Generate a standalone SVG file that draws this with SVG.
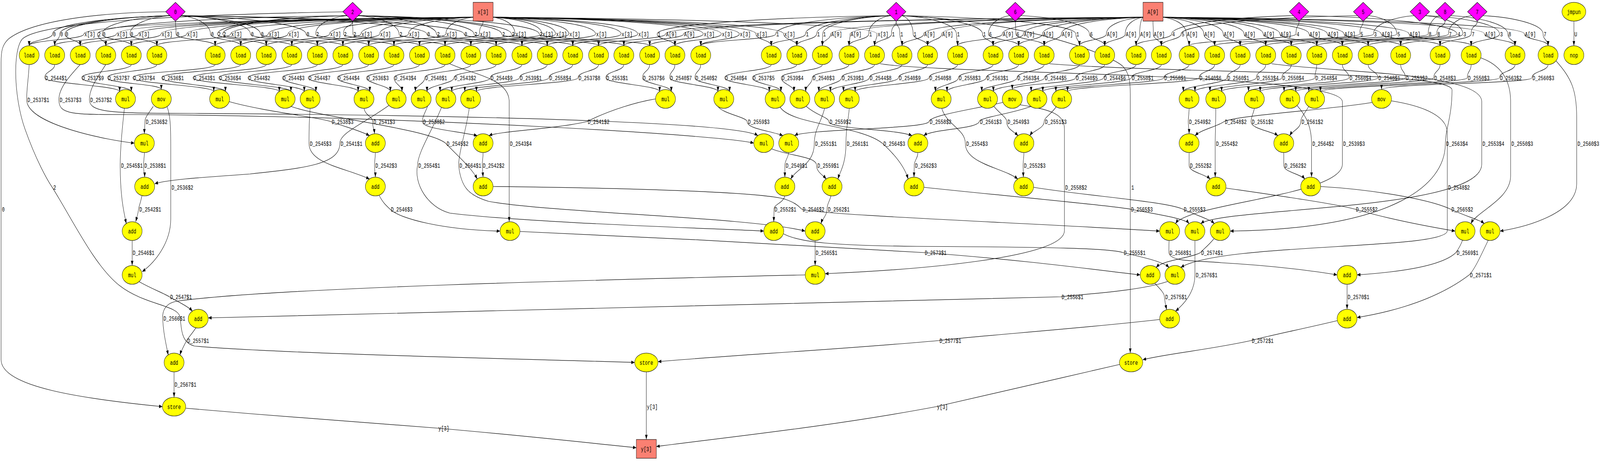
<svg xmlns="http://www.w3.org/2000/svg" width="5763" height="1179" viewBox="0 0 5763 1179" preserveAspectRatio="none">
<style>
svg{width:100vw;height:100vh}
text{font-family:"Liberation Mono","DejaVu Sans Mono",monospace;font-size:16.3px;fill:#000}
.n ellipse{fill:#ffff00;stroke:#000;stroke-width:1.1}
.d polygon{fill:#ff00ff;stroke:#000;stroke-width:1.1}
.b rect{fill:#fa8072;stroke:#000;stroke-width:1.1}
.n text,.d text,.b text{text-anchor:middle}
#edges path{fill:none;stroke:#000;stroke-width:1.2;marker-end:url(#arr)}
</style>
<defs>
<marker id="arr" viewBox="0 0 12 9" refX="12" refY="4.5" markerWidth="12" markerHeight="9" markerUnits="userSpaceOnUse" orient="auto"><path d="M0,0L12,4.5L0,9z" fill="#000" stroke="none"/></marker>
</defs>
<rect width="5763" height="1179" fill="#fff"/>
<g id="edges">
<path d="M1704,44 C1003,48 302,62 302,87 C302,102 105,102 105,117"/>
<path d="M1704,44 C1062,48 419,62 419,87 C419,102 197,102 197,117"/>
<path d="M1704,44 C1101,48 498,62 498,87 C498,102 289,102 289,117"/>
<path d="M1704,44 C1142,48 580,62 580,87 C580,102 381,102 381,117"/>
<path d="M1704,44 C1188,48 672,62 672,87 C672,102 473,102 473,117"/>
<path d="M1704,44 C1268,48 831,62 831,87 C831,102 565,102 565,117"/>
<path d="M1704,44 C1335,48 966,62 966,87 C966,102 775,102 775,117"/>
<path d="M1704,44 C1371,48 1037,62 1037,87 C1037,102 867,102 867,117"/>
<path d="M1704,44 C1446,48 1187,62 1187,87 C1187,102 959,102 959,117"/>
<path d="M1704,44 C1502,48 1300,62 1300,87 C1300,102 1051,102 1051,117"/>
<path d="M1704,44 C1536,48 1367,62 1367,87 C1367,102 1143,102 1143,117"/>
<path d="M1704,44 C1588,48 1471,62 1471,87 C1471,102 1235,102 1235,117"/>
<path d="M1704,44 C1655,48 1606,62 1606,87 C1606,102 1328,102 1328,117"/>
<path d="M1740,54 C1740,70 1727,62 1727,87 C1727,102 1419,102 1419,117"/>
<path d="M1776,44 C1816,48 1855,62 1855,87 C1855,102 1511,102 1511,117"/>
<path d="M1776,44 C1864,48 1952,62 1952,87 C1952,102 1603,102 1603,117"/>
<path d="M1776,44 C1888,48 2001,62 2001,87 C2001,102 1696,102 1696,117"/>
<path d="M1776,44 C1912,48 2049,62 2049,87 C2049,102 1787,102 1787,117"/>
<path d="M1776,44 C1960,48 2145,62 2145,87 C2145,102 1880,102 1880,117"/>
<path d="M1776,44 C2006,48 2237,62 2237,87 C2237,102 1971,102 1971,117"/>
<path d="M1776,44 C2036,48 2297,62 2297,87 C2297,102 2063,102 2063,117"/>
<path d="M4117,44 C3257,48 2397,62 2397,87 C2397,102 2156,102 2156,117"/>
<path d="M4117,44 C3290,48 2462,62 2462,87 C2462,102 2247,102 2247,117"/>
<path d="M1776,44 C2154,48 2533,62 2533,87 C2533,102 2340,102 2340,117"/>
<path d="M1776,44 C2187,48 2598,62 2598,87 C2598,102 2431,102 2431,117"/>
<path d="M1776,44 C2220,48 2663,62 2663,87 C2663,102 2524,102 2524,117"/>
<path d="M1776,44 C2250,48 2723,62 2723,87 C2723,102 2778,102 2778,117"/>
<path d="M1776,44 C2300,48 2823,62 2823,87 C2823,102 2870,102 2870,117"/>
<path d="M4117,44 C3554,48 2992,62 2992,87 C2992,102 2962,102 2962,117"/>
<path d="M4117,44 C3590,48 3062,62 3062,87 C3062,102 3058,102 3058,117"/>
<path d="M1776,44 C2468,48 3159,62 3159,87 C3159,102 3150,102 3150,117"/>
<path d="M4117,44 C3722,48 3327,62 3327,87 C3327,102 3249,102 3249,117"/>
<path d="M4117,44 C3754,48 3392,62 3392,87 C3392,102 3341,102 3341,117"/>
<path d="M4117,44 C3864,48 3610,62 3610,87 C3610,102 3449,102 3449,117"/>
<path d="M4117,44 C3902,48 3686,62 3686,87 C3686,102 3577,102 3577,117"/>
<path d="M4117,44 C3936,48 3755,62 3755,87 C3755,102 3669,102 3669,117"/>
<path d="M4117,44 C3970,48 3823,62 3823,87 C3823,102 3761,102 3761,117"/>
<path d="M4117,44 C4051,48 3985,62 3985,87 C3985,102 3888,102 3888,117"/>
<path d="M4117,44 C4085,48 4053,62 4053,87 C4053,102 3979,102 3979,117"/>
<path d="M4117,44 C4111,48 4105,62 4105,87 C4105,102 4092,102 4092,117"/>
<path d="M4153,54 C4153,70 4154,62 4154,87 C4154,102 4183,102 4183,117"/>
<path d="M4189,44 C4231,48 4273,62 4273,87 C4273,102 4283,102 4283,117"/>
<path d="M4189,44 C4262,48 4336,62 4336,87 C4336,102 4375,102 4375,117"/>
<path d="M4189,44 C4298,48 4406,62 4406,87 C4406,102 4467,102 4467,117"/>
<path d="M4189,44 C4335,48 4481,62 4481,87 C4481,102 4559,102 4559,117"/>
<path d="M4189,44 C4370,48 4550,62 4550,87 C4550,102 4651,102 4651,117"/>
<path d="M4189,44 C4400,48 4610,62 4610,87 C4610,102 4743,102 4743,117"/>
<path d="M4189,44 C4452,48 4715,62 4715,87 C4715,102 4835,102 4835,117"/>
<path d="M4189,44 C4485,48 4781,62 4781,87 C4781,102 4928,102 4928,117"/>
<path d="M4189,44 C4515,48 4841,62 4841,87 C4841,102 5045,102 5045,117"/>
<path d="M4189,44 C4582,48 4975,62 4975,87 C4975,102 5187,102 5187,117"/>
<path d="M4189,44 C4632,48 5075,62 5075,87 C5075,102 5299,102 5299,117"/>
<path d="M4189,44 C4768,48 5347,62 5347,87 C5347,102 5457,102 5457,117"/>
<path d="M4189,44 C4840,48 5491,62 5491,87 C5491,102 5576,102 5576,117"/>
<path d="M611,40 C400,44 189,62 189,87 C189,102 105,102 105,117"/>
<path d="M611,40 C413,44 215,62 215,87 C215,102 197,102 197,117"/>
<path d="M611,40 C422,44 234,62 234,87 C234,102 289,102 289,117"/>
<path d="M1249,40 C800,44 351,62 351,87 C351,102 381,102 381,117"/>
<path d="M611,40 C490,44 368,62 368,87 C368,102 473,102 473,117"/>
<path d="M611,40 C540,44 468,62 468,87 C468,102 565,102 565,117"/>
<path d="M632,54 C632,70 634,62 634,87 C634,102 775,102 775,117"/>
<path d="M653,40 C706,44 758,62 758,87 C758,102 867,102 867,117"/>
<path d="M1249,40 C1016,44 783,62 783,87 C783,102 959,102 959,117"/>
<path d="M1249,40 C1026,44 802,62 802,87 C802,102 1051,102 1051,117"/>
<path d="M653,40 C778,44 902,62 902,87 C902,102 1143,102 1143,117"/>
<path d="M653,40 C796,44 938,62 938,87 C938,102 1235,102 1235,117"/>
<path d="M653,40 C878,44 1102,62 1102,87 C1102,102 1328,102 1328,117"/>
<path d="M1249,40 C1193,44 1137,62 1137,87 C1137,102 1419,102 1419,117"/>
<path d="M1270,54 C1270,70 1237,62 1237,87 C1237,102 1511,102 1511,117"/>
<path d="M1270,54 C1270,70 1271,62 1271,87 C1271,102 1603,102 1603,117"/>
<path d="M1291,40 C1364,44 1437,62 1437,87 C1437,102 1696,102 1696,117"/>
<path d="M653,40 C1095,44 1537,62 1537,87 C1537,102 1787,102 1787,117"/>
<path d="M1291,40 C1432,44 1572,62 1572,87 C1572,102 1880,102 1880,117"/>
<path d="M653,40 C1162,44 1671,62 1671,87 C1671,102 1971,102 1971,117"/>
<path d="M1291,40 C1499,44 1707,62 1707,87 C1707,102 2063,102 2063,117"/>
<path d="M1291,40 C1549,44 1807,62 1807,87 C1807,102 2156,102 2156,117"/>
<path d="M1291,40 C1566,44 1842,62 1842,87 C1842,102 2247,102 2247,117"/>
<path d="M1291,40 C1616,44 1942,62 1942,87 C1942,102 2340,102 2340,117"/>
<path d="M3207,40 C2787,44 2367,62 2367,87 C2367,102 2431,102 2431,117"/>
<path d="M3207,40 C3000,44 2794,62 2794,87 C2794,102 2524,102 2524,117"/>
<path d="M3207,40 C3054,44 2901,62 2901,87 C2901,102 2778,102 2778,117"/>
<path d="M3207,40 C3074,44 2941,62 2941,87 C2941,102 2870,102 2870,117"/>
<path d="M3207,40 C3085,44 2963,62 2963,87 C2963,102 2962,102 2962,117"/>
<path d="M3207,40 C3168,44 3129,62 3129,87 C3129,102 3058,102 3058,117"/>
<path d="M3228,54 C3228,70 3211,62 3211,87 C3211,102 3150,102 3150,117"/>
<path d="M3228,54 C3228,70 3241,62 3241,87 C3241,102 3249,102 3249,117"/>
<path d="M3249,40 C3269,44 3289,62 3289,87 C3289,102 3341,102 3341,117"/>
<path d="M3249,40 C3347,44 3445,62 3445,87 C3445,102 3449,102 3449,117"/>
<path d="M3249,40 C3394,44 3539,62 3539,87 C3539,102 3577,102 3577,117"/>
<path d="M3636,40 C3598,44 3560,62 3560,87 C3560,102 3669,102 3669,117"/>
<path d="M3657,54 C3657,70 3659,62 3659,87 C3659,102 3761,102 3761,117"/>
<path d="M3249,40 C3562,44 3875,62 3875,87 C3875,102 3888,102 3888,117"/>
<path d="M3678,40 C3801,44 3924,62 3924,87 C3924,102 3979,102 3979,117"/>
<path d="M4658,40 C4439,44 4220,62 4220,87 C4220,102 4092,102 4092,117"/>
<path d="M4889,40 C4572,44 4254,62 4254,87 C4254,102 4183,102 4183,117"/>
<path d="M4679,54 C4679,70 4668,62 4668,87 C4668,102 4283,102 4283,117"/>
<path d="M4910,54 C4910,70 4898,62 4898,87 C4898,102 4375,102 4375,117"/>
<path d="M5093,40 C5020,44 4947,62 4947,87 C4947,102 4467,102 4467,117"/>
<path d="M4931,40 C4981,44 5031,62 5031,87 C5031,102 4559,102 4559,117"/>
<path d="M5184,40 C5164,44 5144,62 5144,87 C5144,102 4651,102 4651,117"/>
<path d="M5205,54 C5205,70 5175,62 5175,87 C5175,102 4743,102 4743,117"/>
<path d="M5300,40 C5258,44 5217,62 5217,87 C5217,102 4835,102 4835,117"/>
<path d="M4700,40 C4974,44 5248,62 5248,87 C5248,102 4928,102 4928,117"/>
<path d="M5135,40 C5202,44 5269,62 5269,87 C5269,102 5045,102 5045,117"/>
<path d="M5321,54 C5321,70 5299,62 5299,87 C5299,102 5187,102 5187,117"/>
<path d="M5135,40 C5268,44 5401,62 5401,87 C5401,102 5299,102 5299,117"/>
<path d="M5226,40 C5328,44 5431,62 5431,87 C5431,102 5457,102 5457,117"/>
<path d="M5342,40 C5450,44 5558,62 5558,87 C5558,102 5576,102 5576,117"/>
<path d="M5669,54 L5669,117"/>
<path d="M197,165 C197,182 161,182 161,199 C161,214 431,219 431,234"/>
<path d="M473,165 C473,182 294,182 294,199 C294,214 473,219 473,234"/>
<path d="M565,165 C565,182 387,182 387,199 C387,214 581,214 581,229"/>
<path d="M775,165 C775,182 478,182 478,199 C478,214 770,219 770,234"/>
<path d="M867,165 C867,182 582,182 582,199 C582,214 812,219 812,234"/>
<path d="M959,165 C959,182 695,182 695,199 C695,214 1006,219 1006,234"/>
<path d="M1051,165 C1051,182 788,182 788,199 C788,214 1048,219 1048,234"/>
<path d="M1143,165 C1143,182 893,182 893,199 C893,214 1096,219 1096,234"/>
<path d="M1235,165 C1235,182 1017,182 1017,199 C1017,214 1138,219 1138,234"/>
<path d="M1328,165 C1328,182 1110,182 1110,199 C1110,214 1290,219 1290,234"/>
<path d="M1419,165 C1419,182 1215,182 1215,199 C1215,214 1332,219 1332,234"/>
<path d="M1511,165 C1511,182 1320,182 1320,199 C1320,214 1406,219 1406,234"/>
<path d="M1603,165 C1603,182 1419,182 1419,199 C1419,214 1448,219 1448,234"/>
<path d="M1696,165 C1696,182 1530,182 1530,199 C1530,214 1496,219 1496,234"/>
<path d="M1787,165 C1787,182 1635,182 1635,199 C1635,214 1538,219 1538,234"/>
<path d="M1880,165 C1880,182 1766,182 1766,199 C1766,214 1585,219 1585,234"/>
<path d="M1971,165 C1971,182 1871,182 1871,199 C1871,214 1627,219 1627,234"/>
<path d="M2063,165 C2063,182 1977,182 1977,199 C1977,214 1674,219 1674,234"/>
<path d="M2156,165 C2156,182 2082,182 2082,199 C2082,214 1716,219 1716,234"/>
<path d="M2247,165 C2247,182 2182,182 2182,199 C2182,214 2376,219 2376,234"/>
<path d="M2340,165 C2340,182 2314,182 2314,199 C2314,214 2418,219 2418,234"/>
<path d="M2431,165 C2431,182 2412,182 2412,199 C2412,214 2586,219 2586,234"/>
<path d="M2524,165 C2524,182 2503,182 2503,199 C2503,214 2628,219 2628,234"/>
<path d="M2778,165 C2778,182 2610,182 2610,199 C2610,214 2771,219 2771,234"/>
<path d="M2870,165 C2870,182 2710,182 2710,199 C2710,214 2813,219 2813,234"/>
<path d="M2962,165 C2962,182 2814,182 2814,199 C2814,214 2860,219 2860,234"/>
<path d="M3058,165 C3058,182 2926,182 2926,199 C2926,214 2902,219 2902,234"/>
<path d="M3150,165 C3150,182 3031,182 3031,199 C3031,214 2949,219 2949,234"/>
<path d="M3249,165 C3249,182 3131,182 3131,199 C3131,214 2991,219 2991,234"/>
<path d="M3341,165 C3341,182 3236,182 3236,199 C3236,214 3038,219 3038,234"/>
<path d="M3449,165 C3449,182 3346,182 3346,199 C3346,214 3080,219 3080,234"/>
<path d="M3577,165 C3577,182 3452,182 3452,199 C3452,214 3369,219 3369,234"/>
<path d="M3669,165 C3669,182 3552,182 3552,199 C3552,214 3411,219 3411,234"/>
<path d="M3761,165 C3761,182 3663,182 3663,199 C3663,214 3536,219 3536,234"/>
<path d="M3888,165 C3888,182 3762,182 3762,199 C3762,214 3578,219 3578,234"/>
<path d="M3979,165 C3979,182 3874,182 3874,199 C3874,214 3646,214 3646,229"/>
<path d="M4092,165 C4092,182 3975,182 3975,199 C3975,214 3714,219 3714,234"/>
<path d="M4183,165 C4183,182 4075,182 4075,199 C4075,214 3756,219 3756,234"/>
<path d="M4283,165 C4283,182 4192,182 4192,199 C4192,214 3803,219 3803,234"/>
<path d="M4375,165 C4375,182 4319,182 4319,199 C4319,214 3845,219 3845,234"/>
<path d="M4467,165 C4467,182 4419,182 4419,199 C4419,214 4262,219 4262,234"/>
<path d="M4559,165 C4559,182 4525,182 4525,199 C4525,214 4304,219 4304,234"/>
<path d="M4651,165 C4651,182 4617,182 4617,199 C4617,214 4358,219 4358,234"/>
<path d="M4743,165 C4743,182 4736,182 4736,199 C4736,214 4400,219 4400,234"/>
<path d="M4835,165 C4835,182 4859,182 4859,199 C4859,214 4497,219 4497,234"/>
<path d="M4928,165 C4928,182 4963,182 4963,199 C4963,214 4539,219 4539,234"/>
<path d="M5045,165 C5045,182 5062,182 5062,199 C5062,214 4625,219 4625,234"/>
<path d="M5187,165 C5187,182 5164,182 5164,199 C5164,214 4667,219 4667,234"/>
<path d="M5299,165 C5299,182 5285,182 5285,199 C5285,214 4714,219 4714,234"/>
<path d="M5457,165 C5457,182 5401,182 5401,199 C5401,214 4756,219 4756,234"/>
<path d="M5576,165 C5576,182 5518,182 5518,199 C5518,214 4976,214 4976,229"/>
<path d="M105,165 C103,200 96,225 96,255 C96,320 400,360 484,366"/>
<path d="M289,165 C250,195 212,225 212,255 C212,295 260,293 500,293 C1500,298 2600,345 2715,366"/>
<path d="M381,165 C350,200 322,225 322,255 C322,288 400,290 700,290 C1600,294 2650,310 2730,347"/>
<path d="M552,272 C535,290 522,300 522,311 C522,325 520,332 520,342"/>
<path d="M826,260 C950,285 1150,300 1192,311 C1250,326 1300,335 1331,347"/>
<path d="M1311,277 C1315,295 1342,298 1342,311 C1342,325 1348,333 1349,342"/>
<path d="M1540,272 C1530,290 1521,300 1521,311 C1521,330 1650,335 1719,347"/>
<path d="M2361,253 C2300,260 2200,280 2114,311 C2000,330 1800,335 1761,347"/>
<path d="M2586,272 C2600,290 2691,300 2691,311 C2691,330 2780,335 2820,347"/>
<path d="M2904,272 C2940,295 2985,300 2985,311 C2985,330 3230,330 3285,347"/>
<path d="M3612,262 C3500,280 3350,295 3346,311 C3340,330 2900,330 2862,347"/>
<path d="M3714,272 C3650,290 3530,300 3527,311 C3520,330 3360,330 3327,347"/>
<path d="M3580,272 C3600,290 3626,300 3626,311 C3626,330 3650,335 3667,347"/>
<path d="M3805,272 C3790,290 3761,300 3761,311 C3761,328 3720,335 3709,347"/>
<path d="M4283,277 C4283,290 4280,300 4280,311 C4280,325 4283,330 4283,342"/>
<path d="M4942,262 C4800,280 4450,295 4409,311 C4380,325 4330,330 4304,347"/>
<path d="M4518,277 C4515,290 4506,300 4506,311 C4506,330 4580,335 4603,347"/>
<path d="M4714,272 C4700,290 4685,300 4685,311 C4685,328 4655,335 4645,347"/>
<path d="M1117,277 C1113,320 1113,340 1113,367 C1113,420 1250,430 1331,458"/>
<path d="M1400,270 C1300,320 1224,340 1224,367 C1224,420 1100,430 900,445 C700,455 600,460 557,470"/>
<path d="M1048,272 C1150,300 1550,330 1606,367 C1650,400 1700,430 1719,458"/>
<path d="M2970,277 C2960,310 2933,330 2933,367 C2933,420 2870,430 2848,458"/>
<path d="M3059,277 C3055,310 3047,330 3047,367 C3047,420 3025,440 3018,458"/>
<path d="M2810,274 C2850,320 3100,320 3179,367 C3230,400 3260,430 3271,458"/>
<path d="M3392,277 C3410,320 3477,330 3477,367 C3477,420 3620,430 3666,458"/>
<path d="M4379,277 C4379,320 4377,340 4377,367 L4377,453"/>
<path d="M4672,270 C4710,300 4724,330 4724,367 L4724,453"/>
<path d="M1620,163 C1700,190 1834,200 1834,260 L1834,567"/>
<path d="M3170,163 C3400,190 4835,185 4835,260 L4835,420 C4835,500 4280,520 4234,572"/>
<path d="M3780,163 C4200,188 5230,180 5230,230 C5230,300 5206,330 5206,367 C5206,480 5000,585 4431,591"/>
<path d="M4580,163 C4800,185 5337,185 5337,260 L5337,420 C5337,540 4400,530 4325,572"/>
<path d="M5334,148 C5400,165 5441,200 5441,260 L5441,450 C5441,510 5320,540 5298,572"/>
<path d="M5605,156 C5660,200 5679,230 5679,300 L5679,470 C5679,545 5500,580 5403,591"/>
<path d="M448,277 C440,330 433,380 433,423 C433,500 445,540 455,572"/>
<path d="M520,390 C520,405 517,410 517,423 C517,440 521,445 521,453"/>
<path d="M1352,390 C1352,405 1349,410 1349,423 C1349,440 1352,445 1352,453"/>
<path d="M1590,275 C1560,330 1504,390 1504,423 C1490,470 1540,530 1620,545 C1900,570 2600,585 2751,591"/>
<path d="M1690,277 C1680,330 1652,390 1652,423 C1660,480 1690,500 1760,515 C2000,545 2700,555 2900,591"/>
<path d="M1740,390 C1740,405 1737,410 1737,423 L1740,453"/>
<path d="M2841,390 C2838,405 2827,410 2827,423 L2827,453"/>
<path d="M2780,381 C2850,400 2941,400 2941,423 C2941,440 2965,448 2976,458"/>
<path d="M3306,390 C3306,405 3293,410 3293,423 L3292,453"/>
<path d="M3688,390 C3688,405 3685,410 3685,423 L3686,453"/>
<path d="M4283,390 C4283,405 4283,410 4283,423 C4283,440 4340,445 4359,458"/>
<path d="M4624,390 C4624,405 4624,410 4624,423 C4624,440 4685,445 4700,458"/>
<path d="M1249,30 C800,36 150,50 80,100 C45,130 50,250 90,330 C130,410 170,460 188,479 C260,560 340,680 430,730 C520,780 640,780 648,810 C655,840 650,875 700,885 C1000,905 2000,920 2286,927"/>
<path d="M602,273 C615,300 615,330 615,380 L615,560 C615,620 560,670 512,695"/>
<path d="M3674,268 C3780,280 3834,290 3834,330 L3834,590 C3834,660 3300,690 2972,700"/>
<path d="M3249,40 C3700,55 4000,140 4045,170 C4068,188 4071,210 4071,240 L4071,903"/>
<path d="M5012,258 C5100,268 5213,290 5213,340 L5213,590 C5213,640 4400,620 4253,684"/>
<path d="M597,30 C300,33 100,60 30,100 C8,115 4,130 4,160 L4,920 C4,990 300,1020 585,1040"/>
<path d="M511,501 C506,520 500,528 499,535 C497,548 492,558 489,567"/>
<path d="M1366,500 C1380,520 1395,528 1405,535 C1440,560 1600,588 1801,591"/>
<path d="M2827,501 C2820,520 2788,522 2788,535 L2787,567"/>
<path d="M1776,477 C2200,480 2750,490 2830,510 C2870,520 2880,530 2888,535 C2950,550 3700,570 4177,591"/>
<path d="M2993,501 C2988,515 2979,522 2979,535 C2979,550 2962,560 2957,572"/>
<path d="M3328,479 C3600,500 4000,525 4071,535 C4200,552 4270,560 4283,572"/>
<path d="M3723,479 C3900,500 4200,515 4261,535 C4330,556 4360,562 4374,572"/>
<path d="M4416,481 C4600,500 4800,520 4881,535 C5000,560 5150,580 5241,591"/>
<path d="M4757,477 C4950,485 5150,510 5225,535 C5290,556 5330,562 5346,572"/>
<path d="M476,615 L476,679"/>
<path d="M2936,615 L2936,679"/>
<path d="M1873,592 C2300,605 3000,630 3328,646 C3700,665 4000,695 4107,703"/>
<path d="M2822,598 C2880,620 3000,628 3300,630 C3800,632 4000,635 4045,646 C4130,660 4190,670 4211,684"/>
<path d="M4211,615 C4210,630 4210,640 4210,646 C4215,670 4300,666 4400,672 C4600,680 4750,695 4816,703"/>
<path d="M4372,611 C4350,630 4330,640 4324,646 C4290,660 4190,665 4164,684"/>
<path d="M5268,614 C5260,630 5250,640 5244,646 C5180,690 4950,700 4888,703"/>
<path d="M4304,615 C4304,650 4304,680 4304,703 C4304,750 4260,780 4234,796"/>
<path d="M5360,615 C5330,660 5310,690 5292,703 C5150,780 4950,805 4888,812"/>
<path d="M500,720 C550,740 590,750 610,759 C650,775 680,785 693,796"/>
<path d="M4205,720 C4100,745 3900,752 3821,759 C3000,778 2000,795 750,813"/>
<path d="M4160,725 C4180,740 4194,750 4194,759 C4196,775 4200,785 4202,792"/>
<path d="M4852,727 L4852,791"/>
<path d="M2900,703 C2200,715 1000,735 640,770 C590,775 585,800 586,814 C588,850 598,880 606,908"/>
<path d="M705,839 C690,855 680,862 672,871 C662,885 652,898 648,908"/>
<path d="M4177,817 C3900,840 3500,860 3381,871 C3000,895 2600,910 2370,925"/>
<path d="M4817,820 C4700,840 4560,860 4506,871 C4350,895 4200,905 4116,920"/>
<path d="M627,951 L627,1016"/>
<path d="M2328,951 L2328,1124"/>
<path d="M669,1044 C1000,1065 1400,1085 1576,1095 C1900,1115 2150,1135 2292,1145"/>
<path d="M4033,932 C3800,970 3500,1020 3372,1040 C3000,1090 2600,1120 2364,1142"/>
</g>
<g id="edge-labels">
<text x="191" y="93">0</text><text x="217" y="93">0</text><text x="236" y="93">0</text><text x="304" y="93">x[3]</text><text x="353" y="93">2</text><text x="370" y="93">0</text><text x="421" y="93">x[3]</text><text x="470" y="93">0</text><text x="500" y="93">x[3]</text><text x="582" y="93">x[3]</text><text x="636" y="93">0</text><text x="674" y="93">x[3]</text>
<text x="760" y="93">0</text><text x="785" y="93">2</text><text x="804" y="93">2</text><text x="833" y="93">x[3]</text><text x="904" y="93">0</text><text x="940" y="93">0</text><text x="968" y="93">x[3]</text><text x="1039" y="93">x[3]</text><text x="1104" y="93">0</text><text x="1139" y="93">2</text><text x="1189" y="93">x[3]</text><text x="1239" y="93">2</text><text x="1273" y="93">2</text><text x="1302" y="93">x[3]</text><text x="1369" y="93">x[3]</text><text x="1439" y="93">2</text>
<text x="1473" y="93">x[3]</text><text x="1539" y="93">0</text><text x="1574" y="93">2</text><text x="1608" y="93">x[3]</text><text x="1673" y="93">0</text><text x="1709" y="93">2</text><text x="1729" y="93">x[3]</text><text x="1809" y="93">2</text><text x="1844" y="93">2</text><text x="1857" y="93">x[3]</text><text x="1944" y="93">2</text><text x="1954" y="93">x[3]</text><text x="2003" y="93">x[3]</text><text x="2051" y="93">x[3]</text><text x="2147" y="93">x[3]</text>
<text x="2239" y="93">x[3]</text><text x="2299" y="93">x[3]</text><text x="2369" y="93">1</text><text x="2399" y="93">A[9]</text><text x="2464" y="93">A[9]</text><text x="2535" y="93">x[3]</text><text x="2600" y="93">x[3]</text><text x="2665" y="93">x[3]</text><text x="2725" y="93">x[3]</text><text x="2796" y="93">1</text><text x="2825" y="93">x[3]</text>
<text x="2903" y="93">1</text><text x="2943" y="93">1</text><text x="2965" y="93">1</text><text x="2994" y="93">A[9]</text><text x="3064" y="93">A[9]</text><text x="3131" y="93">1</text><text x="3161" y="93">x[3]</text><text x="3213" y="93">1</text><text x="3243" y="93">1</text><text x="3291" y="93">1</text><text x="3329" y="93">A[9]</text><text x="3394" y="93">A[9]</text><text x="3447" y="93">1</text><text x="3541" y="93">1</text><text x="3562" y="93">6</text>
<text x="3612" y="93">A[9]</text><text x="3661" y="93">6</text><text x="3688" y="93">A[9]</text><text x="3757" y="93">A[9]</text><text x="3825" y="93">A[9]</text><text x="3877" y="93">1</text><text x="3926" y="93">6</text><text x="3987" y="93">A[9]</text><text x="4055" y="93">A[9]</text><text x="4107" y="93">A[9]</text><text x="4156" y="93">A[9]</text><text x="4222" y="93">4</text><text x="4256" y="93">5</text><text x="4275" y="93">A[9]</text>
<text x="4338" y="93">A[9]</text><text x="4408" y="93">A[9]</text><text x="4483" y="93">A[9]</text><text x="4552" y="93">A[9]</text><text x="4612" y="93">A[9]</text><text x="4670" y="93">4</text><text x="4717" y="93">A[9]</text><text x="4783" y="93">A[9]</text><text x="4843" y="93">A[9]</text><text x="4900" y="93">5</text><text x="4949" y="93">3</text><text x="4977" y="93">A[9]</text><text x="5033" y="93">5</text>
<text x="5077" y="93">A[9]</text><text x="5146" y="93">8</text><text x="5177" y="93">8</text><text x="5219" y="93">7</text><text x="5250" y="93">4</text><text x="5271" y="93">3</text><text x="5301" y="93">7</text><text x="5349" y="93">A[9]</text><text x="5403" y="93">3</text><text x="5433" y="93">8</text><text x="5493" y="93">A[9]</text><text x="5560" y="93">7</text><text x="5671" y="93">U</text>
<text x="163" y="205">D_2544$1</text><text x="296" y="205">D_2537$9</text><text x="389" y="205">D_2537$7</text><text x="480" y="205">D_2537$4</text><text x="584" y="205">D_2536$1</text><text x="697" y="205">D_2543$1</text><text x="790" y="205">D_2536$4</text><text x="895" y="205">D_2544$2</text><text x="1019" y="205">D_2544$3</text><text x="1112" y="205">D_2544$7</text><text x="1217" y="205">D_2544$4</text><text x="1322" y="205">D_2536$3</text><text x="1421" y="205">D_2543$4</text>
<text x="1532" y="205">D_2540$1</text><text x="1637" y="205">D_2543$2</text><text x="1768" y="205">D_2544$9</text><text x="1873" y="205">D_2539$1</text><text x="1979" y="205">D_2558$4</text><text x="2084" y="205">D_2537$8</text><text x="2184" y="205">D_2553$1</text><text x="2316" y="205">D_2537$6</text><text x="2414" y="205">D_2540$7</text><text x="2505" y="205">D_2540$2</text><text x="2612" y="205">D_2540$4</text><text x="2712" y="205">D_2537$5</text><text x="2816" y="205">D_2539$4</text>
<text x="2928" y="205">D_2540$3</text><text x="3033" y="205">D_2539$3</text><text x="3133" y="205">D_2544$8</text><text x="3238" y="205">D_2540$9</text><text x="3348" y="205">D_2540$8</text><text x="3454" y="205">D_2558$3</text><text x="3554" y="205">D_2563$1</text><text x="3665" y="205">D_2563$4</text><text x="3764" y="205">D_2544$5</text><text x="3876" y="205">D_2540$5</text><text x="3977" y="205">D_2544$6</text><text x="4077" y="205">D_2550$1</text><text x="4194" y="205">D_2558$1</text>
<text x="4321" y="205">D_2540$6</text><text x="4421" y="205">D_2560$1</text><text x="4527" y="205">D_2553$4</text><text x="4619" y="205">D_2550$4</text><text x="4738" y="205">D_2548$4</text><text x="4861" y="205">D_2560$4</text><text x="4965" y="205">D_2548$1</text><text x="5064" y="205">D_2553$2</text><text x="5166" y="205">D_2548$3</text><text x="5287" y="205">D_2550$3</text><text x="5403" y="205">D_2563$2</text><text x="5520" y="205">D_2560$3</text>
<text x="99" y="261">D_2537$1</text><text x="215" y="261">D_2537$3</text><text x="325" y="261">D_2537$2</text>
<text x="525" y="317">D_2536$2</text><text x="1195" y="317">D_2538$3</text><text x="1345" y="317">D_2541$3</text><text x="1524" y="317">D_2538$2</text><text x="2117" y="317">D_2541$2</text><text x="2694" y="317">D_2559$3</text><text x="2988" y="317">D_2559$2</text><text x="3349" y="317">D_2558$2</text><text x="3530" y="317">D_2561$3</text><text x="3629" y="317">D_2549$3</text><text x="3764" y="317">D_2551$3</text><text x="4283" y="317">D_2549$2</text><text x="4412" y="317">D_2548$2</text><text x="4509" y="317">D_2551$2</text><text x="4688" y="317">D_2561$2</text>
<text x="1116" y="373">D_2545$3</text><text x="1227" y="373">D_2541$1</text><text x="1609" y="373">D_2545$2</text><text x="1837" y="373">D_2543$4</text><text x="2936" y="373">D_2551$1</text><text x="3050" y="373">D_2561$1</text><text x="3182" y="373">D_2564$3</text><text x="3480" y="373">D_2554$3</text><text x="4380" y="373">D_2554$2</text><text x="4727" y="373">D_2564$2</text><text x="4838" y="373">D_2539$3</text><text x="5209" y="373">D_2563$4</text><text x="5340" y="373">D_2553$4</text><text x="5444" y="373">D_2550$3</text><text x="5682" y="373">D_2560$3</text>
<text x="436" y="429">D_2545$1</text><text x="520" y="429">D_2538$1</text><text x="1352" y="429">D_2542$3</text><text x="1507" y="429">D_2554$1</text><text x="1655" y="429">D_2564$1</text><text x="1739" y="429">D_2542$2</text><text x="2830" y="429">D_2549$1</text><text x="2944" y="429">D_2559$1</text><text x="3296" y="429">D_2562$3</text><text x="3688" y="429">D_2552$3</text><text x="4286" y="429">D_2552$2</text><text x="4627" y="429">D_2562$2</text>
<text x="192" y="485">2</text><text x="618" y="485">D_2536$2</text><text x="3837" y="485">D_2558$2</text><text x="4075" y="485">1</text><text x="5216" y="485">D_2548$2</text>
<text x="7" y="541">0</text><text x="502" y="541">D_2542$1</text><text x="1408" y="541">D_2546$3</text><text x="2790" y="541">D_2552$1</text><text x="2891" y="541">D_2546$2</text><text x="2982" y="541">D_2562$1</text><text x="4074" y="541">D_2565$3</text><text x="4264" y="541">D_2555$3</text><text x="4884" y="541">D_2555$2</text><text x="5228" y="541">D_2565$2</text>
<text x="478" y="652">D_2546$1</text><text x="2938" y="652">D_2565$1</text><text x="3331" y="652">D_2573$1</text><text x="4048" y="652">D_2555$1</text><text x="4213" y="652">D_2568$1</text><text x="4327" y="652">D_2574$1</text><text x="5247" y="652">D_2569$1</text>
<text x="4307" y="709">D_2576$1</text><text x="5295" y="709">D_2571$1</text>
<text x="613" y="765">D_2547$1</text><text x="3824" y="765">D_2556$1</text><text x="4197" y="765">D_2575$1</text><text x="4854" y="765">D_2570$1</text>
<text x="589" y="820">D_2566$1</text>
<text x="675" y="877">D_2557$1</text><text x="3384" y="877">D_2577$1</text><text x="4509" y="877">D_2572$1</text>
<text x="629" y="989">D_2567$1</text>
<text x="2330" y="1046">y[3]</text><text x="3375" y="1046">y[3]</text>
<text x="1579" y="1101">y[3]</text>
</g>
<g id="n_c0" class="d"><polygon points="597,30 632,6 667,30 632,54"/><text x="632" y="36">0</text></g>
<g id="n_c2" class="d"><polygon points="1235,30 1270,6 1305,30 1270,54"/><text x="1270" y="36">2</text></g>
<g id="n_x3" class="b"><rect x="1704" y="6" width="72" height="48"/><text x="1740" y="36">x[3]</text></g>
<g id="n_c1" class="d"><polygon points="3193,30 3228,6 3263,30 3228,54"/><text x="3228" y="36">1</text></g>
<g id="n_c6" class="d"><polygon points="3622,30 3657,6 3692,30 3657,54"/><text x="3657" y="36">6</text></g>
<g id="n_a9" class="b"><rect x="4117" y="6" width="72" height="48"/><text x="4153" y="36">A[9]</text></g>
<g id="n_c4" class="d"><polygon points="4644,30 4679,6 4714,30 4679,54"/><text x="4679" y="36">4</text></g>
<g id="n_c5" class="d"><polygon points="4875,30 4910,6 4945,30 4910,54"/><text x="4910" y="36">5</text></g>
<g id="n_c3" class="d"><polygon points="5079,30 5114,6 5149,30 5114,54"/><text x="5114" y="36">3</text></g>
<g id="n_c8" class="d"><polygon points="5170,30 5205,6 5240,30 5205,54"/><text x="5205" y="36">8</text></g>
<g id="n_c7" class="d"><polygon points="5286,30 5321,6 5356,30 5321,54"/><text x="5321" y="36">7</text></g>
<g id="n_jmpun" class="n"><ellipse cx="5669" cy="30" rx="43" ry="24"/><text x="5669" y="36">jmpun</text></g>
<g id="n_ld1" class="n"><ellipse cx="105" cy="141" rx="36" ry="24"/><text x="105" y="147">load</text></g>
<g id="n_ld2" class="n"><ellipse cx="197" cy="141" rx="36" ry="24"/><text x="197" y="147">load</text></g>
<g id="n_ld3" class="n"><ellipse cx="289" cy="141" rx="36" ry="24"/><text x="289" y="147">load</text></g>
<g id="n_ld4" class="n"><ellipse cx="381" cy="141" rx="36" ry="24"/><text x="381" y="147">load</text></g>
<g id="n_ld5" class="n"><ellipse cx="473" cy="141" rx="36" ry="24"/><text x="473" y="147">load</text></g>
<g id="n_ld6" class="n"><ellipse cx="565" cy="141" rx="36" ry="24"/><text x="565" y="147">load</text></g>
<g id="n_ld7" class="n"><ellipse cx="775" cy="141" rx="36" ry="24"/><text x="775" y="147">load</text></g>
<g id="n_ld8" class="n"><ellipse cx="867" cy="141" rx="36" ry="24"/><text x="867" y="147">load</text></g>
<g id="n_ld9" class="n"><ellipse cx="959" cy="141" rx="36" ry="24"/><text x="959" y="147">load</text></g>
<g id="n_ld10" class="n"><ellipse cx="1051" cy="141" rx="36" ry="24"/><text x="1051" y="147">load</text></g>
<g id="n_ld11" class="n"><ellipse cx="1143" cy="141" rx="36" ry="24"/><text x="1143" y="147">load</text></g>
<g id="n_ld12" class="n"><ellipse cx="1235" cy="141" rx="36" ry="24"/><text x="1235" y="147">load</text></g>
<g id="n_ld13" class="n"><ellipse cx="1328" cy="141" rx="36" ry="24"/><text x="1328" y="147">load</text></g>
<g id="n_ld14" class="n"><ellipse cx="1419" cy="141" rx="36" ry="24"/><text x="1419" y="147">load</text></g>
<g id="n_ld15" class="n"><ellipse cx="1511" cy="141" rx="36" ry="24"/><text x="1511" y="147">load</text></g>
<g id="n_ld16" class="n"><ellipse cx="1603" cy="141" rx="36" ry="24"/><text x="1603" y="147">load</text></g>
<g id="n_ld17" class="n"><ellipse cx="1696" cy="141" rx="36" ry="24"/><text x="1696" y="147">load</text></g>
<g id="n_ld18" class="n"><ellipse cx="1787" cy="141" rx="36" ry="24"/><text x="1787" y="147">load</text></g>
<g id="n_ld19" class="n"><ellipse cx="1880" cy="141" rx="36" ry="24"/><text x="1880" y="147">load</text></g>
<g id="n_ld20" class="n"><ellipse cx="1971" cy="141" rx="36" ry="24"/><text x="1971" y="147">load</text></g>
<g id="n_ld21" class="n"><ellipse cx="2063" cy="141" rx="36" ry="24"/><text x="2063" y="147">load</text></g>
<g id="n_ld22" class="n"><ellipse cx="2156" cy="141" rx="36" ry="24"/><text x="2156" y="147">load</text></g>
<g id="n_ld23" class="n"><ellipse cx="2247" cy="141" rx="36" ry="24"/><text x="2247" y="147">load</text></g>
<g id="n_ld24" class="n"><ellipse cx="2340" cy="141" rx="36" ry="24"/><text x="2340" y="147">load</text></g>
<g id="n_ld25" class="n"><ellipse cx="2431" cy="141" rx="36" ry="24"/><text x="2431" y="147">load</text></g>
<g id="n_ld26" class="n"><ellipse cx="2524" cy="141" rx="36" ry="24"/><text x="2524" y="147">load</text></g>
<g id="n_ld27" class="n"><ellipse cx="2778" cy="141" rx="36" ry="24"/><text x="2778" y="147">load</text></g>
<g id="n_ld28" class="n"><ellipse cx="2870" cy="141" rx="36" ry="24"/><text x="2870" y="147">load</text></g>
<g id="n_ld29" class="n"><ellipse cx="2962" cy="141" rx="36" ry="24"/><text x="2962" y="147">load</text></g>
<g id="n_ld30" class="n"><ellipse cx="3058" cy="141" rx="36" ry="24"/><text x="3058" y="147">load</text></g>
<g id="n_ld31" class="n"><ellipse cx="3150" cy="141" rx="36" ry="24"/><text x="3150" y="147">load</text></g>
<g id="n_ld32" class="n"><ellipse cx="3249" cy="141" rx="36" ry="24"/><text x="3249" y="147">load</text></g>
<g id="n_ld33" class="n"><ellipse cx="3341" cy="141" rx="36" ry="24"/><text x="3341" y="147">load</text></g>
<g id="n_ld34" class="n"><ellipse cx="3449" cy="141" rx="36" ry="24"/><text x="3449" y="147">load</text></g>
<g id="n_ld35" class="n"><ellipse cx="3577" cy="141" rx="36" ry="24"/><text x="3577" y="147">load</text></g>
<g id="n_ld36" class="n"><ellipse cx="3669" cy="141" rx="36" ry="24"/><text x="3669" y="147">load</text></g>
<g id="n_ld37" class="n"><ellipse cx="3761" cy="141" rx="36" ry="24"/><text x="3761" y="147">load</text></g>
<g id="n_ld38" class="n"><ellipse cx="3888" cy="141" rx="36" ry="24"/><text x="3888" y="147">load</text></g>
<g id="n_ld39" class="n"><ellipse cx="3979" cy="141" rx="36" ry="24"/><text x="3979" y="147">load</text></g>
<g id="n_ld40" class="n"><ellipse cx="4092" cy="141" rx="36" ry="24"/><text x="4092" y="147">load</text></g>
<g id="n_ld41" class="n"><ellipse cx="4183" cy="141" rx="36" ry="24"/><text x="4183" y="147">load</text></g>
<g id="n_ld42" class="n"><ellipse cx="4283" cy="141" rx="36" ry="24"/><text x="4283" y="147">load</text></g>
<g id="n_ld43" class="n"><ellipse cx="4375" cy="141" rx="36" ry="24"/><text x="4375" y="147">load</text></g>
<g id="n_ld44" class="n"><ellipse cx="4467" cy="141" rx="36" ry="24"/><text x="4467" y="147">load</text></g>
<g id="n_ld45" class="n"><ellipse cx="4559" cy="141" rx="36" ry="24"/><text x="4559" y="147">load</text></g>
<g id="n_ld46" class="n"><ellipse cx="4651" cy="141" rx="36" ry="24"/><text x="4651" y="147">load</text></g>
<g id="n_ld47" class="n"><ellipse cx="4743" cy="141" rx="36" ry="24"/><text x="4743" y="147">load</text></g>
<g id="n_ld48" class="n"><ellipse cx="4835" cy="141" rx="36" ry="24"/><text x="4835" y="147">load</text></g>
<g id="n_ld49" class="n"><ellipse cx="4928" cy="141" rx="36" ry="24"/><text x="4928" y="147">load</text></g>
<g id="n_ld50" class="n"><ellipse cx="5045" cy="141" rx="36" ry="24"/><text x="5045" y="147">load</text></g>
<g id="n_ld51" class="n"><ellipse cx="5187" cy="141" rx="36" ry="24"/><text x="5187" y="147">load</text></g>
<g id="n_ld52" class="n"><ellipse cx="5299" cy="141" rx="36" ry="24"/><text x="5299" y="147">load</text></g>
<g id="n_ld53" class="n"><ellipse cx="5457" cy="141" rx="36" ry="24"/><text x="5457" y="147">load</text></g>
<g id="n_ld54" class="n"><ellipse cx="5576" cy="141" rx="36" ry="24"/><text x="5576" y="147">load</text></g>
<g id="n_nop" class="n"><ellipse cx="5669" cy="141" rx="36" ry="24"/><text x="5669" y="147">nop</text></g>
<g id="n_m1" class="n"><ellipse cx="452" cy="253" rx="36" ry="24"/><text x="452" y="259">mul</text></g>
<g id="n_m2" class="n"><ellipse cx="581" cy="253" rx="36" ry="24"/><text x="581" y="259">mov</text></g>
<g id="n_m3" class="n"><ellipse cx="791" cy="253" rx="36" ry="24"/><text x="791" y="259">mul</text></g>
<g id="n_m4" class="n"><ellipse cx="1027" cy="253" rx="36" ry="24"/><text x="1027" y="259">mul</text></g>
<g id="n_m5" class="n"><ellipse cx="1117" cy="253" rx="36" ry="24"/><text x="1117" y="259">mul</text></g>
<g id="n_m6" class="n"><ellipse cx="1311" cy="253" rx="36" ry="24"/><text x="1311" y="259">mul</text></g>
<g id="n_m7" class="n"><ellipse cx="1427" cy="253" rx="36" ry="24"/><text x="1427" y="259">mul</text></g>
<g id="n_m8" class="n"><ellipse cx="1517" cy="253" rx="36" ry="24"/><text x="1517" y="259">mul</text></g>
<g id="n_m9" class="n"><ellipse cx="1606" cy="253" rx="36" ry="24"/><text x="1606" y="259">mul</text></g>
<g id="n_m10" class="n"><ellipse cx="1695" cy="253" rx="36" ry="24"/><text x="1695" y="259">mul</text></g>
<g id="n_m11" class="n"><ellipse cx="2397" cy="253" rx="36" ry="24"/><text x="2397" y="259">mul</text></g>
<g id="n_m12" class="n"><ellipse cx="2607" cy="253" rx="36" ry="24"/><text x="2607" y="259">mul</text></g>
<g id="n_m13" class="n"><ellipse cx="2792" cy="253" rx="36" ry="24"/><text x="2792" y="259">mul</text></g>
<g id="n_m14" class="n"><ellipse cx="2881" cy="253" rx="36" ry="24"/><text x="2881" y="259">mul</text></g>
<g id="n_m15" class="n"><ellipse cx="2970" cy="253" rx="36" ry="24"/><text x="2970" y="259">mul</text></g>
<g id="n_m16" class="n"><ellipse cx="3059" cy="253" rx="36" ry="24"/><text x="3059" y="259">mul</text></g>
<g id="n_m17" class="n"><ellipse cx="3390" cy="253" rx="36" ry="24"/><text x="3390" y="259">mul</text></g>
<g id="n_m18" class="n"><ellipse cx="3557" cy="253" rx="36" ry="24"/><text x="3557" y="259">mul</text></g>
<g id="n_m19" class="n"><ellipse cx="3646" cy="253" rx="36" ry="24"/><text x="3646" y="259">mov</text></g>
<g id="n_m20" class="n"><ellipse cx="3735" cy="253" rx="36" ry="24"/><text x="3735" y="259">mul</text></g>
<g id="n_m21" class="n"><ellipse cx="3824" cy="253" rx="36" ry="24"/><text x="3824" y="259">mul</text></g>
<g id="n_m22" class="n"><ellipse cx="4283" cy="253" rx="36" ry="24"/><text x="4283" y="259">mul</text></g>
<g id="n_m23" class="n"><ellipse cx="4379" cy="253" rx="36" ry="24"/><text x="4379" y="259">mul</text></g>
<g id="n_m24" class="n"><ellipse cx="4518" cy="253" rx="36" ry="24"/><text x="4518" y="259">mul</text></g>
<g id="n_m25" class="n"><ellipse cx="4646" cy="253" rx="36" ry="24"/><text x="4646" y="259">mul</text></g>
<g id="n_m26" class="n"><ellipse cx="4735" cy="253" rx="36" ry="24"/><text x="4735" y="259">mul</text></g>
<g id="n_m27" class="n"><ellipse cx="4976" cy="253" rx="36" ry="24"/><text x="4976" y="259">mov</text></g>
<g id="n_t1" class="n"><ellipse cx="520" cy="366" rx="36" ry="24"/><text x="520" y="372">mul</text></g>
<g id="n_t2" class="n"><ellipse cx="1352" cy="366" rx="36" ry="24"/><text x="1352" y="372">add</text></g>
<g id="n_t3" class="n"><ellipse cx="1740" cy="366" rx="36" ry="24"/><text x="1740" y="372">add</text></g>
<g id="n_t4" class="n"><ellipse cx="2751" cy="366" rx="36" ry="24"/><text x="2751" y="372">mul</text></g>
<g id="n_t5" class="n"><ellipse cx="2841" cy="366" rx="36" ry="24"/><text x="2841" y="372">mul</text></g>
<g id="n_t6" class="n"><ellipse cx="3306" cy="366" rx="36" ry="24"/><text x="3306" y="372">add</text></g>
<g id="n_t7" class="n"><ellipse cx="3688" cy="366" rx="36" ry="24"/><text x="3688" y="372">add</text></g>
<g id="n_t8" class="n"><ellipse cx="4283" cy="366" rx="36" ry="24"/><text x="4283" y="372">add</text></g>
<g id="n_t9" class="n"><ellipse cx="4624" cy="366" rx="36" ry="24"/><text x="4624" y="372">add</text></g>
<g id="n_u1" class="n"><ellipse cx="521" cy="477" rx="36" ry="24"/><text x="521" y="483">add</text></g>
<g id="n_u2" class="n"><ellipse cx="1352" cy="477" rx="36" ry="24"/><text x="1352" y="483">add</text></g>
<g id="n_u3" class="n"><ellipse cx="1740" cy="477" rx="36" ry="24"/><text x="1740" y="483">add</text></g>
<g id="n_u4" class="n"><ellipse cx="2827" cy="477" rx="36" ry="24"/><text x="2827" y="483">add</text></g>
<g id="n_u5" class="n"><ellipse cx="2997" cy="477" rx="36" ry="24"/><text x="2997" y="483">add</text></g>
<g id="n_u6" class="n"><ellipse cx="3292" cy="477" rx="36" ry="24"/><text x="3292" y="483">add</text></g>
<g id="n_u7" class="n"><ellipse cx="3687" cy="477" rx="36" ry="24"/><text x="3687" y="483">add</text></g>
<g id="n_u8" class="n"><ellipse cx="4380" cy="477" rx="36" ry="24"/><text x="4380" y="483">add</text></g>
<g id="n_u9" class="n"><ellipse cx="4721" cy="477" rx="36" ry="24"/><text x="4721" y="483">add</text></g>
<g id="n_v1" class="n"><ellipse cx="476" cy="591" rx="36" ry="24"/><text x="476" y="597">add</text></g>
<g id="n_v2" class="n"><ellipse cx="1837" cy="591" rx="36" ry="24"/><text x="1837" y="597">mul</text></g>
<g id="n_v3" class="n"><ellipse cx="2787" cy="591" rx="36" ry="24"/><text x="2787" y="597">add</text></g>
<g id="n_v4" class="n"><ellipse cx="2936" cy="591" rx="36" ry="24"/><text x="2936" y="597">add</text></g>
<g id="n_v5" class="n"><ellipse cx="4213" cy="591" rx="36" ry="24"/><text x="4213" y="597">mul</text></g>
<g id="n_v6" class="n"><ellipse cx="4304" cy="591" rx="36" ry="24"/><text x="4304" y="597">mul</text></g>
<g id="n_v7" class="n"><ellipse cx="4395" cy="591" rx="36" ry="24"/><text x="4395" y="597">mul</text></g>
<g id="n_v8" class="n"><ellipse cx="5277" cy="591" rx="36" ry="24"/><text x="5277" y="597">mul</text></g>
<g id="n_v9" class="n"><ellipse cx="5367" cy="591" rx="36" ry="24"/><text x="5367" y="597">mul</text></g>
<g id="n_w1" class="n"><ellipse cx="476" cy="703" rx="36" ry="24"/><text x="476" y="709">mul</text></g>
<g id="n_w2" class="n"><ellipse cx="2936" cy="703" rx="36" ry="24"/><text x="2936" y="709">mul</text></g>
<g id="n_w3" class="n"><ellipse cx="4143" cy="703" rx="36" ry="24"/><text x="4143" y="709">add</text></g>
<g id="n_w4" class="n"><ellipse cx="4232" cy="703" rx="36" ry="24"/><text x="4232" y="709">mul</text></g>
<g id="n_w5" class="n"><ellipse cx="4852" cy="703" rx="36" ry="24"/><text x="4852" y="709">add</text></g>
<g id="n_x1" class="n"><ellipse cx="714" cy="815" rx="36" ry="24"/><text x="714" y="821">add</text></g>
<g id="n_x2" class="n"><ellipse cx="4213" cy="815" rx="36" ry="24"/><text x="4213" y="821">add</text></g>
<g id="n_x3a" class="n"><ellipse cx="4852" cy="815" rx="36" ry="24"/><text x="4852" y="821">add</text></g>
<g id="n_y1" class="n"><ellipse cx="627" cy="927" rx="36" ry="24"/><text x="627" y="933">add</text></g>
<g id="n_y2" class="n"><ellipse cx="2328" cy="927" rx="42" ry="24"/><text x="2328" y="933">store</text></g>
<g id="n_y3" class="n"><ellipse cx="4074" cy="927" rx="42" ry="24"/><text x="4074" y="933">store</text></g>
<g id="n_z1" class="n"><ellipse cx="627" cy="1040" rx="42" ry="24"/><text x="627" y="1046">store</text></g>
<g id="n_yout" class="b"><rect x="2292" y="1124" width="72" height="48"/><text x="2328" y="1154">y[3]</text></g>
</svg>
